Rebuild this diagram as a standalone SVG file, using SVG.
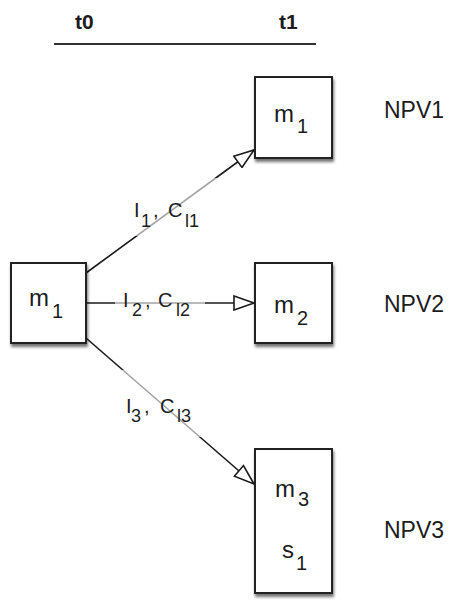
<svg xmlns="http://www.w3.org/2000/svg" width="452" height="603" viewBox="0 0 452 603">
  <style>
    .box { fill: #ffffff; stroke: #222222; stroke-width: 2; filter: url(#shadow); }
    .txt { font-family: "Liberation Sans", Arial, sans-serif; fill: #1c1c1c; }
    .node { font-size: 24px; }
    .sub { font-size: 20px; }
    .lbl { font-size: 20px; }
    .lsub { font-size: 18px; }
    .npv { font-size: 23px; }
    .time { font-size: 21px; font-weight: bold; }
    .edge { stroke: #1a1a1a; stroke-width: 1.6; fill: none; marker-end: url(#open-arrow); }
    .lblbg { fill: #ffffff; fill-opacity: 0.6; }
  </style>
  <defs>
    <filter id="shadow" x="-20%" y="-20%" width="140%" height="140%">
      <feDropShadow dx="1" dy="3" stdDeviation="1.6" flood-color="#000000" flood-opacity="0.55"/>
    </filter>
    <marker id="open-arrow" viewBox="0 0 22 16" refX="21" refY="8" markerWidth="22" markerHeight="16" markerUnits="userSpaceOnUse" orient="auto">
      <path d="M1,1 L21,8 L1,15 Z" fill="#ffffff" stroke="#1a1a1a" stroke-width="1.6" stroke-linejoin="miter"/>
    </marker>
  </defs>

  <rect width="452" height="603" fill="#ffffff"/>

  <!-- time axis -->
  <g id="timeline">
    <line x1="54" y1="44" x2="316" y2="44" stroke="#333333" stroke-width="2"/>
    <text class="txt time" x="75" y="29">t0</text>
    <text class="txt time" x="279" y="29">t1</text>
  </g>

  <!-- connectors with their labels -->
  <g id="connectors">
    <line class="edge" x1="86" y1="273" x2="254" y2="150"/>
    <line class="edge" x1="86" y1="303" x2="254" y2="303"/>
    <line class="edge" x1="86" y1="338" x2="254" y2="484"/>

    <rect class="lblbg" x="120" y="178" width="100" height="58"/>
    <text class="txt lbl">
      <tspan x="134" y="217">I</tspan><tspan class="lsub" x="141" y="227">1</tspan><tspan x="153" y="217">,</tspan><tspan x="168" y="217">C</tspan><tspan class="lsub" x="185" y="227">l1</tspan>
    </text>

    <rect class="lblbg" x="115" y="273" width="90" height="54"/>
    <text class="txt lbl">
      <tspan x="123" y="307">I</tspan><tspan class="lsub" x="132" y="316">2</tspan><tspan x="145" y="307">,</tspan><tspan x="158" y="307">C</tspan><tspan class="lsub" x="176" y="316">l2</tspan>
    </text>

    <rect class="lblbg" x="113" y="370" width="102" height="67"/>
    <text class="txt lbl">
      <tspan x="126" y="413">I</tspan><tspan class="lsub" x="131" y="422">3</tspan><tspan x="144" y="413">,</tspan><tspan x="160" y="413">C</tspan><tspan class="lsub" x="177" y="422">l3</tspan>
    </text>
  </g>

  <!-- state at t0 -->
  <g id="node-m1-t0">
    <rect class="box" x="11" y="263" width="75" height="80"/>
    <text class="txt node" x="29" y="306">m<tspan class="sub" x="52" y="318">1</tspan></text>
  </g>

  <!-- states at t1 -->
  <g id="node-m1-t1">
    <rect class="box" x="255" y="77" width="77" height="81"/>
    <text class="txt node" x="274" y="122">m<tspan class="sub" x="297" y="133">1</tspan></text>
  </g>

  <g id="node-m2">
    <rect class="box" x="255" y="263" width="77" height="80"/>
    <text class="txt node" x="274" y="313">m<tspan class="sub" x="297" y="325">2</tspan></text>
  </g>

  <g id="node-m3-s1">
    <rect class="box" x="255" y="449" width="77" height="144"/>
    <text class="txt node" x="275" y="497">m<tspan class="sub" x="298" y="506">3</tspan></text>
    <text class="txt node" x="282" y="558">s<tspan class="sub" x="296" y="570">1</tspan></text>
  </g>

  <!-- outcome values -->
  <g id="npv-labels">
    <text class="txt npv" x="384" y="118">NPV1</text>
    <text class="txt npv" x="384" y="312">NPV2</text>
    <text class="txt npv" x="384" y="538">NPV3</text>
  </g>
</svg>
